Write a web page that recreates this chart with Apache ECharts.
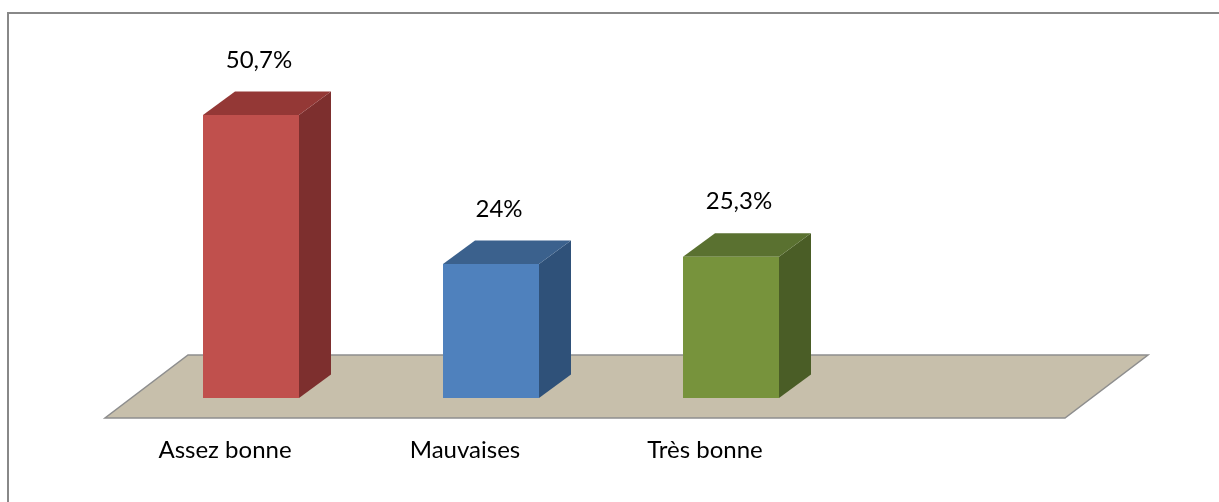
<!DOCTYPE html>
<html><head><meta charset="utf-8">
<script src="https://cdn.jsdelivr.net/npm/echarts@6/dist/echarts.min.js"></script>
<style>html,body{margin:0;padding:0;background:#fff}#c{width:1219px;height:502px}</style>
</head><body><div id="c"></div>
<script>
const categories = ['Assez bonne', 'Mauvaises', 'Très bonne', ''];
const values = [50.7, 24, 25.3];
const valueLabels = ['50,7%', '24%', '25,3%'];
const frontColors = ['#C0504D', '#4F81BD', '#77933C'];
const topColors = ['#943836', '#3B618D', '#5A7130'];
const sideColors = ['#7D2F2E', '#2F5179', '#4A5D26'];

const DX = 32, DY = -23.5;
const FONT = 'Lato, "Noto Sans", sans-serif';

const chart = echarts.init(document.getElementById('c'), null, {renderer: 'canvas'});

function renderFloor(params, api) {
  const cs = params.coordSys;
  const y0 = cs.y + cs.height;
  const x0 = cs.x, x1 = cs.x + cs.width;
  return {
    type: 'polygon',
    shape: {points: [[x0 - 26, y0 + 20], [x1 - 26, y0 + 20], [x1 + 57, y0 - 43], [x0 + 57, y0 - 43]]},
    style: {fill: '#C7BFAB', stroke: '#8E8E8E', lineWidth: 1.5},
    silent: true
  };
}

function renderBar(params, api) {
  const i = params.dataIndex;
  const x = api.value(0), v = api.value(1);
  const base = api.coord([x, 0]);
  const top = api.coord([x, v]);
  const bw = api.size([1, 0])[0] * 0.4;
  const l = base[0] - bw / 2, r = base[0] + bw / 2;
  const b = base[1], t = top[1];
  return {
    type: 'group',
    children: [
      {type: 'polygon', shape: {points: [[r, b], [r + DX, b + DY], [r + DX, t + DY], [r, t]]},
        style: {fill: sideColors[i]}},
      {type: 'polygon', shape: {points: [[l, t], [r, t], [r + DX, t + DY], [l + DX, t + DY]]},
        style: {fill: topColors[i]}},
      {type: 'rect', shape: {x: l, y: t, width: bw, height: b - t},
        style: {fill: frontColors[i]}},
      {type: 'text', style: {text: valueLabels[i], x: base[0] + 8, y: t - 55,
        align: 'center', verticalAlign: 'middle', font: '24px ' + FONT, fill: '#000'}}
    ]
  };
}

chart.setOption({
  backgroundColor: '#fff',
  animation: false,
  grid: {left: 131, width: 960, top: 63, bottom: 104},
  xAxis: {
    type: 'category', data: categories,
    axisLine: {show: false}, axisTick: {show: false},
    axisLabel: {color: '#000', fontSize: 24, fontFamily: FONT, margin: 40, padding: [0, 52, 0, 0]}
  },
  yAxis: {type: 'value', min: 0, max: 60, show: false, splitLine: {show: false}},
  graphic: [{
    type: 'rect', shape: {x: 8, y: 13, width: 1300, height: 600},
    style: {fill: 'none', stroke: '#888', lineWidth: 2}, silent: true, z: 100
  }],
  series: [
    {type: 'custom', renderItem: renderFloor, data: [[0, 0]], z: 1, silent: true},
    {type: 'custom', renderItem: renderBar, z: 2,
      data: values.map((v, i) => [i, v])}
  ]
});
</script></body></html>
